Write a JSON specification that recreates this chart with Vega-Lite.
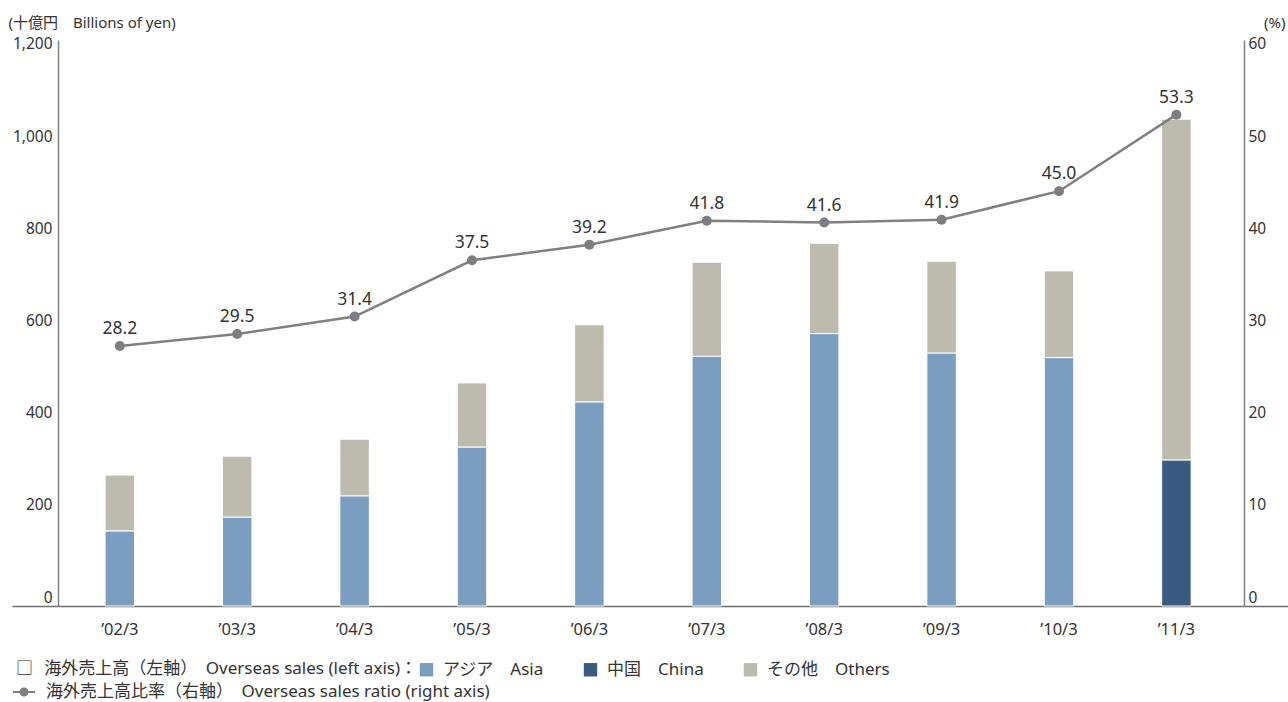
{
  "$schema": "https://vega.github.io/schema/vega-lite/v6.json",
  "width": 1276,
  "height": 566,
  "autosize": {"type": "none"},
  "padding": {"left": 12, "top": 40, "right": 0, "bottom": 96},
  "background": "white",
  "config": {
    "font": "'Noto Sans', 'Noto Sans CJK JP'",
    "view": {"stroke": null},
    "axis": {
      "domainColor": "#808080",
      "domainWidth": 1.5,
      "ticks": false,
      "tickSize": 0,
      "grid": false,
      "labelColor": "#333333",
      "labelFont": "'Noto Sans', 'Noto Sans CJK JP'",
      "titleFont": "'Noto Sans', 'Noto Sans CJK JP'",
      "labelFlush": false,
      "labelBound": false
    },
    "legend": {
      "labelFont": "'Noto Sans', 'Noto Sans CJK JP'",
      "titleFont": "'Noto Sans', 'Noto Sans CJK JP'",
      "labelColor": "#333333",
      "titleColor": "#333333",
      "padding": 0,
      "labelLimit": 1000,
      "titleLimit": 1000
    }
  },
  "datasets": {
    "sales": [
      {"year": "’02/3", "region": "Asia", "value": 163},
      {"year": "’02/3", "region": "Others", "value": 121},
      {"year": "’03/3", "region": "Asia", "value": 193},
      {"year": "’03/3", "region": "Others", "value": 132},
      {"year": "’04/3", "region": "Asia", "value": 239},
      {"year": "’04/3", "region": "Others", "value": 123},
      {"year": "’05/3", "region": "Asia", "value": 345},
      {"year": "’05/3", "region": "Others", "value": 139},
      {"year": "’06/3", "region": "Asia", "value": 443},
      {"year": "’06/3", "region": "Others", "value": 167},
      {"year": "’07/3", "region": "Asia", "value": 542},
      {"year": "’07/3", "region": "Others", "value": 204},
      {"year": "’08/3", "region": "Asia", "value": 591},
      {"year": "’08/3", "region": "Others", "value": 196},
      {"year": "’09/3", "region": "Asia", "value": 549},
      {"year": "’09/3", "region": "Others", "value": 199},
      {"year": "’10/3", "region": "Asia", "value": 539},
      {"year": "’10/3", "region": "Others", "value": 188},
      {"year": "’11/3", "region": "China", "value": 317},
      {"year": "’11/3", "region": "Others", "value": 739}
    ],
    "ratio": [
      {"year": "’02/3", "ratio": 28.2},
      {"year": "’03/3", "ratio": 29.5},
      {"year": "’04/3", "ratio": 31.4},
      {"year": "’05/3", "ratio": 37.5},
      {"year": "’06/3", "ratio": 39.2},
      {"year": "’07/3", "ratio": 41.8},
      {"year": "’08/3", "ratio": 41.6},
      {"year": "’09/3", "ratio": 41.9},
      {"year": "’10/3", "ratio": 45.0},
      {"year": "’11/3", "ratio": 53.3}
    ]
  },
  "encoding": {
    "x": {
      "field": "year",
      "type": "nominal",
      "sort": null,
      "scale": {"paddingInner": 0.749, "paddingOuter": 0.809, "align": 0.49},
      "axis": {
        "title": null,
        "labelAngle": 0,
        "labelFontSize": 16.5,
        "labelPadding": 15,
        "domainColor": "#6e6e6e",
        "domainWidth": 1.5
      }
    }
  },
  "layer": [
    {
      "data": {"name": "sales"},
      "mark": {"type": "bar", "stroke": "white", "strokeWidth": 1},
      "encoding": {
        "y": {
          "field": "value",
          "type": "quantitative",
          "stack": "zero",
          "scale": {"domain": [0, 1228], "nice": false, "zero": true},
          "axis": {
            "orient": "left",
            "offset": -46,
            "values": [0, 200, 400, 600, 800, 1000, 1200],
            "format": ",d",
            "labelFontSize": 15.5,
            "labelBaseline": "alphabetic",
            "labelOffset": -4,
            "labelPadding": 6,
            "title": "(十億円　Billions of yen)",
            "titleAngle": 0,
            "titleX": -50,
            "titleY": -18,
            "titleAlign": "left",
            "titleBaseline": "middle",
            "titleFontSize": 15,
            "titleFontWeight": "normal",
            "titleColor": "#333333"
          }
        },
        "color": {
          "field": "region",
          "type": "nominal",
          "scale": {"domain": ["Asia", "China", "Others"], "range": ["#7b9dc0", "#3b5a7f", "#bdbbae"]},
          "legend": {
            "orient": "none",
            "direction": "horizontal",
            "legendX": 4,
            "legendY": 621,
            "title": "□\u2002\u2009海外売上高（左軸）　Overseas sales (left axis)：",
            "titleOrient": "left",
            "titleFontSize": 17,
            "titleFontWeight": "normal",
            "titlePadding": 0,
            "titleBaseline": "middle",
            "labelFontSize": 17,
            "labelOffset": 8,
            "columnPadding": 38,
            "symbolType": "square",
            "symbolSize": 180,
            "symbolStrokeWidth": 0,
            "labelExpr": "datum.label == 'Asia' ? 'アジア　Asia' : datum.label == 'China' ? '中国　China' : 'その他　Others'"
          }
        },
        "order": {"field": "region", "sort": "ascending"}
      }
    },
    {
      "data": {"name": "ratio"},
      "encoding": {
        "y": {
          "field": "ratio",
          "type": "quantitative",
          "scale": {"domain": [0, 61.4], "nice": false, "zero": true},
          "axis": {
            "orient": "right",
            "offset": -44,
            "values": [0, 10, 20, 30, 40, 50, 60],
            "labelFontSize": 15.5,
            "labelBaseline": "alphabetic",
            "labelOffset": -4,
            "labelPadding": 4,
            "title": "(%)",
            "titleAngle": 0,
            "titleX": 41,
            "titleY": -18,
            "titleAlign": "right",
            "titleBaseline": "middle",
            "titleFontSize": 15,
            "titleFontWeight": "normal",
            "titleColor": "#333333"
          }
        }
      },
      "layer": [
        {
          "mark": {"type": "line", "strokeWidth": 2.5},
          "encoding": {
            "stroke": {
              "datum": "海外売上高比率（右軸）　Overseas sales ratio (right axis)",
              "scale": {"range": ["#808080"]},
              "legend": {
                "orient": "none",
                "legendX": 0,
                "legendY": 640,
                "title": null,
                "labelFontSize": 17,
                "labelOffset": 10,
                "symbolType": "M-1,0L1,0M0.32,0A0.32,0.32,0,1,1,-0.32,0A0.32,0.32,0,1,1,0.32,0Z",
                "symbolSize": 484,
                "symbolStrokeWidth": 2,
                "symbolFillColor": "#808080",
                "encode": {"symbols": {"update": {"fill": {"value": "#808080"}}}}
              }
            }
          }
        },
        {
          "mark": {"type": "point", "filled": true, "size": 100, "color": "#7d7d82", "opacity": 1}
        },
        {
          "mark": {"type": "text", "dy": -12, "baseline": "alphabetic", "fontSize": 17.5, "color": "#333333"},
          "encoding": {"text": {"field": "ratio", "type": "quantitative", "format": ".1f"}}
        }
      ]
    }
  ],
  "resolve": {"scale": {"y": "independent"}}
}
